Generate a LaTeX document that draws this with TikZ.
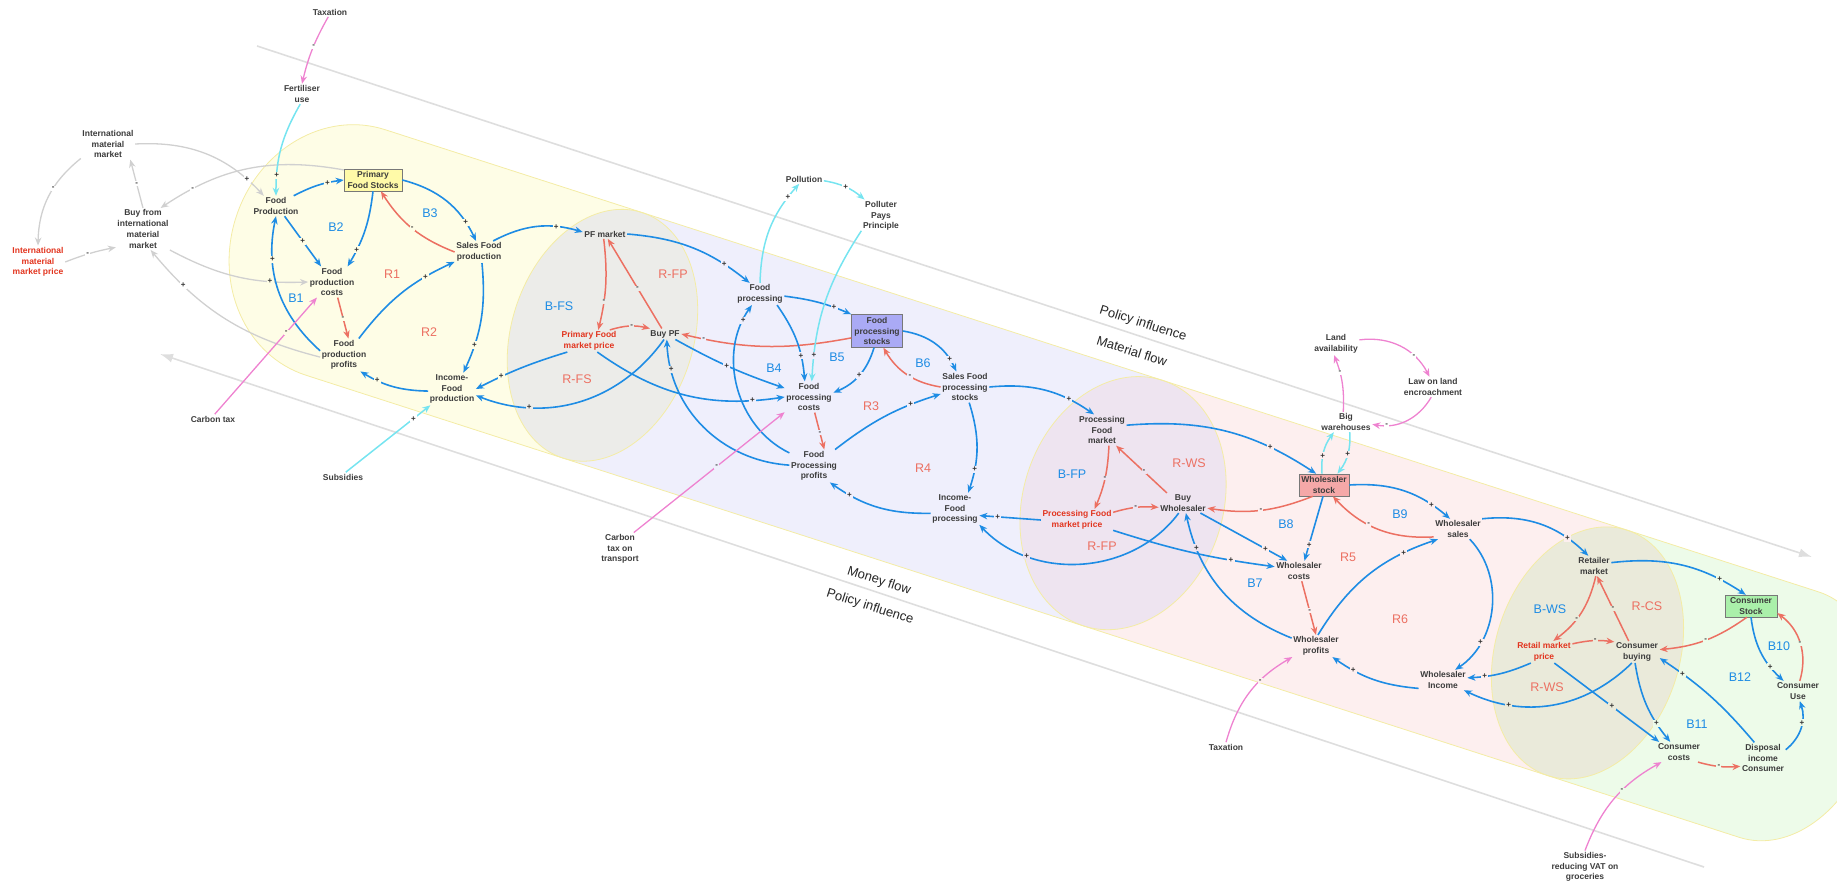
\documentclass[tikz,border=0pt]{standalone}
\usepackage{fontspec}
\setmainfont{Liberation Sans}
\usetikzlibrary{arrows.meta}

% line and text colours
\definecolor{cblue}{RGB}{30,140,228}
\definecolor{cred}{RGB}{236,112,98}
\definecolor{ccyan}{RGB}{118,228,240}
\definecolor{cpink}{RGB}{238,130,208}
\definecolor{cgray}{RGB}{208,208,208}
\definecolor{guidegray}{RGB}{222,222,222}
\definecolor{txt}{RGB}{60,60,60}
\definecolor{rtxt}{RGB}{226,52,30}
% tube segment colours
\definecolor{bgY}{RGB}{254,253,230}
\definecolor{bgG}{RGB}{236,236,233}
\definecolor{bgL}{RGB}{239,239,252}
\definecolor{bgP}{RGB}{238,228,240}
\definecolor{bgK}{RGB}{253,239,239}
\definecolor{bgO}{RGB}{234,234,218}
\definecolor{bgN}{RGB}{237,251,233}
\definecolor{rim}{RGB}{244,236,165}
% stock boxes
\definecolor{boxY}{RGB}{255,250,168}
\definecolor{boxL}{RGB}{170,170,245}
\definecolor{boxK}{RGB}{245,168,168}
\definecolor{boxN}{RGB}{170,240,170}
\definecolor{boxline}{RGB}{120,120,120}

\begin{document}
\begin{tikzpicture}[x=1pt,y=-1pt,
  nd/.style={font=\bfseries\fontsize{8.5}{10.8}\selectfont, text=txt, align=center, inner sep=1.5pt},
  rn/.style={nd, text=rtxt},
  bx/.style={nd, draw=boxline, line width=0.6pt, inner xsep=2pt, inner ysep=2.5pt},
  lb/.style={font=\fontsize{12.5}{12.5}\selectfont, text=cblue},
  lr/.style={font=\fontsize{12.5}{12.5}\selectfont, text=cred},
  flowtxt/.style={font=\fontsize{13}{13}\selectfont, text=black!85, rotate=-17.87},
  sg/.style={font=\bfseries\fontsize{8}{8}\selectfont, text=black!80, inner sep=1.2pt, fill=#1},
  sg/.default=white,
  tip/.style={-{Stealth[length=8pt,width=6.5pt]}},
  eb/.style={draw=cblue, line width=1.6pt, tip},
  er/.style={draw=cred, line width=1.5pt, tip},
  ec/.style={draw=ccyan, line width=1.5pt, tip},
  ep/.style={draw=cpink, line width=1.3pt, tip},
  eg/.style={draw=cgray, line width=1.3pt, tip},
  guide/.style={draw=guidegray, line width=1.6pt, -{Latex[length=13pt,width=9pt]}}
]
\useasboundingbox (0,0) rectangle (1837,885);
\clip (0,0) rectangle (1837,885);

% ---------- the supply-chain tube ----------
\begin{scope}[shift={(631,344.5)}, rotate=-17.87]
  \fill[bgN] (1005,-129) rectangle (1206,129);
  \fill[bgN] (1206,0) ellipse [x radius=95, y radius=129];
  \fill[bgK] (517,-129) rectangle (1005,129);
  \filldraw[fill=bgO, draw=rim, line width=.8pt] (1005,0) ellipse [x radius=92, y radius=129];
  \fill[bgL] (-30,-129) rectangle (517,129);
  \filldraw[fill=bgP, draw=rim, line width=.8pt] (517,0) ellipse [x radius=100, y radius=129];
  \fill[bgY] (-300,-129) rectangle (-30,129);
  \fill[bgY] (-300,0) ellipse [x radius=115, y radius=129];
  \filldraw[fill=bgG, draw=rim, line width=.8pt] (-30,0) ellipse [x radius=91, y radius=129];
  \draw[rim, line width=.8pt] (-300,-129) -- (1206,-129) (-300,129) -- (1206,129);
  \begin{scope}
    \clip (-430,-135) rectangle (-300,135);
    \draw[rim, line width=.8pt] (-300,0) ellipse [x radius=115, y radius=129];
  \end{scope}
  \begin{scope}
    \clip (1206,-135) rectangle (1320,135);
    \draw[rim, line width=.8pt] (1206,0) ellipse [x radius=95, y radius=129];
  \end{scope}
\end{scope}

% ---------- flow guides ----------
\coordinate (gtopA) at (257,46);
\coordinate (gtopB) at (1812,557);
\coordinate (gbotA) at (1704,867);
\coordinate (gbotB) at (160,354);
\draw[guide] (gtopA) -- (gtopB);
\draw[guide] (gbotA) -- (gbotB);
\node[flowtxt] (pinfA) at (1143,324) {Policy influence};
\node[flowtxt] (mflow) at (1132,351) {Material flow};
\node[flowtxt] (moflow) at (879,581) {Money flow};
\node[flowtxt] (pinfB) at (870,607) {Policy influence};

% ---------- variables ----------
\node[nd] (tax1) at (330,12) {Taxation};
\node[nd] (fert) at (302,94) {Fertiliser\\use};
\node[nd] (imm) at (108,144) {International\\material\\market};
\node[nd] (bfim) at (143,229) {Buy from\\international\\material\\market};
\node[rn] (immp) at (38,262) {International\\material\\market price};
\node[bx, fill=boxY, minimum width=58pt] (pfs) at (373,180) {Primary\\Food Stocks};
\node[nd] (fp) at (276,206) {Food\\Production};
\node[nd] (sfp) at (479,252) {Sales Food\\production};
\node[nd] (fpc) at (332,282) {Food\\production\\costs};
\node[nd] (fpp) at (344,355) {Food\\production\\profits};
\node[nd] (ifp) at (452,389) {Income-\\Food\\production};
\node[nd] (ctax) at (213,419) {Carbon tax};
\node[nd] (subs) at (343,477) {Subsidies};
\node[nd] (pfm) at (605,234) {PF market};
\node[nd] (poll) at (804,179) {Pollution};
\node[nd] (ppp) at (881,216) {Polluter\\Pays\\Principle};
\node[nd] (fproc) at (760,294) {Food\\processing};
\node[rn] (pfmp) at (589,341) {Primary Food\\market price};
\node[nd] (buypf) at (665,334) {Buy PF};
\node[bx, fill=boxL, minimum width=51pt] (fps) at (877,331) {Food\\processing\\stocks};
\node[nd] (fpcost) at (809,397) {Food\\processing\\costs};
\node[nd] (fpprof) at (814,466) {Food\\Processing\\profits};
\node[nd] (ctt) at (620,549) {Carbon\\tax on\\transport};
\node[nd] (sfps) at (965,387) {Sales Food\\processing\\stocks};
\node[nd] (ifproc) at (955,509) {Income-\\Food\\processing};
\node[nd] (prfm) at (1102,430) {Processing\\Food\\market};
\node[rn] (prfmp) at (1077,520) {Processing Food\\market price};
\node[nd] (buyw) at (1183,503) {Buy\\Wholesaler};
\node[nd] (land) at (1336,344) {Land\\availability};
\node[nd] (law) at (1433,387) {Law on land\\encroachment};
\node[nd] (bigw) at (1346,422) {Big\\warehouses};
\node[bx, fill=boxK, minimum width=50pt] (wstock) at (1324,485) {Wholesaler\\stock};
\node[nd] (wcost) at (1299,571) {Wholesaler\\costs};
\node[nd] (wprof) at (1316,646) {Wholesaler\\profits};
\node[nd] (tax2) at (1226,747) {Taxation};
\node[nd] (wsales) at (1458,529) {Wholesaler\\sales};
\node[nd] (wincome) at (1443,680) {Wholesaler\\Income};
\node[nd] (retm) at (1594,566) {Retailer\\market};
\node[bx, fill=boxN, minimum width=52pt] (cstock) at (1751,606) {Consumer\\Stock};
\node[rn] (rmp) at (1544,652) {Retail market\\price};
\node[nd] (cbuy) at (1637,652) {Consumer\\buying};
\node[nd] (cuse) at (1798,691) {Consumer\\Use};
\node[nd] (ccost) at (1679,752) {Consumer\\costs};
\node[nd] (dic) at (1763,758) {Disposal\\income\\Consumer};
\node[nd] (svat) at (1585,867) {Subsidies-\\reducing VAT on\\groceries};

% ---------- loop labels ----------
\node[lb] (lB1) at (296,298) {B1};
\node[lb] (lB2) at (336,227) {B2};
\node[lb] (lB3) at (430,213) {B3};
\node[lr] (lR1) at (392,274) {R1};
\node[lr] (lR2) at (429,332) {R2};
\node[lb] (lBFS) at (559,306) {B-FS};
\node[lr] (lRFPa) at (673,274) {R-FP};
\node[lr] (lRFS) at (577,379) {R-FS};
\node[lb] (lB4) at (774,368) {B4};
\node[lb] (lB5) at (837,357) {B5};
\node[lb] (lB6) at (923,363) {B6};
\node[lr] (lR3) at (871,406) {R3};
\node[lr] (lR4) at (923,468) {R4};
\node[lb] (lBFP) at (1072,474) {B-FP};
\node[lr] (lRWSa) at (1189,463) {R-WS};
\node[lr] (lRFPb) at (1102,546) {R-FP};
\node[lb] (lB8) at (1286,524) {B8};
\node[lb] (lB7) at (1255,583) {B7};
\node[lr] (lR5) at (1348,557) {R5};
\node[lb] (lB9) at (1400,514) {B9};
\node[lr] (lR6) at (1400,619) {R6};
\node[lb] (lBWS) at (1550,609) {B-WS};
\node[lr] (lRCS) at (1647,606) {R-CS};
\node[lr] (lRWSb) at (1547,687) {R-WS};
\node[lb] (lB10) at (1779,646) {B10};
\node[lb] (lB12) at (1740,677) {B12};
\node[lb] (lB11) at (1697,724) {B11};

% ---------- primary production ----------
\draw[eg] (imm.east) to[bend left=25] node[sg, pos=.85]{+} (fp.140);
\draw[eg] (pfs.161) to[bend right=22] node[sg, pos=.82]{-} (bfim.50);
\draw[eg] (bfim.north) to node[sg, pos=.5]{-} (imm.-35);
\draw[eg] (imm.208) to[bend right=25] node[sg, pos=.4]{-} (immp.north);
\draw[eg] (immp.east) to[bend left=5] node[sg, pos=.45]{-} (bfim.214);
\draw[eg] (bfim.-38) to[bend right=15] node[sg=bgY, pos=.75]{+} (fpc.west);
\draw[eg] (fpp.185) to[bend left=18] node[sg, pos=.78]{+} (bfim.-70);

\draw[eb] (fp.30) to[bend left=10] node[sg=bgY, pos=.7]{+} (pfs.west);
\draw[eb] (fp.-50) to node[sg=bgY, pos=.5]{+} (fpc.125);
\draw[eb] (fpp.170) to[bend left=30] node[sg=bgY, pos=.72]{+} (fp.south);
\draw[eb] (pfs.south) to[bend left=12] node[sg=bgY, pos=.78]{+} (fpc.45);
\draw[eb] (pfs.east) to[bend left=25] node[sg=bgY, pos=.8]{+} (sfp.105);
\draw[er] (sfp.west) to[bend left=18] node[sg=bgY, pos=.5]{-} (pfs.-55);
\draw[er] (fpc.-70) to node[sg=bgY, pos=.5]{-} (fpp.75);
\draw[eb] (fpp.48) to[bend left=14] node[sg=bgY, pos=.75]{+} (sfp.202);
\draw[eb] (sfp.-75) to[bend left=15] node[sg=bgY, pos=.75]{+} (ifp.55);
\draw[eb] (ifp.185) to[bend left=15] node[sg=bgY, pos=.75]{+} (fpp.-45);
\draw[ep] (ctax.70) to node[sg=bgY, pos=.7]{-} (fpc.226);
\draw[ec] (fert.-100) to[bend right=15] node[sg=bgY, pos=.8]{+} (fp.north);
\draw[ep] (tax1.-110) to[bend right=8] node[sg, pos=.45]{-} (fert.north);
\draw[ec] (subs.60) to node[sg, pos=.8]{+} (ifp.217);
\draw[eb] (pfmp.-153) to[bend right=5] node[sg=bgY, pos=.73]{+} (ifp.east);
\draw[eb] (buypf.-100) to[bend left=38] node[sg=bgG, pos=.75]{+} (ifp.-15);
\draw[eb] (sfp.38) to[bend left=22] node[sg=bgY, pos=.72]{+} (pfm.175);

% ---------- food processing ----------
\draw[er] (pfm.-105) to[bend left=10] node[sg=bgG, pos=.7]{-} (pfmp.50);
\draw[er] (buypf.120) to node[sg=bgG, pos=.45]{-} (pfm.-60);
\draw[er] (pfmp.28) to[bend left=15] node[sg=bgG, pos=.55]{-} (buypf.160);
\draw[eb] (pfm.east) to[bend left=17] node[sg=bgL, pos=.78]{+} (fproc.133);
\draw[eb] (fproc.-5) to[bend left=8] node[sg=bgL, pos=.75]{+} (fps.north west);
\draw[er] (fps.195) to[bend left=12] node[sg=bgL, pos=.88]{-} (buypf.east);
\draw[eb] (fproc.-33) to[bend left=15] node[sg=bgL, pos=.7]{+} (fpcost.105);
\draw[ec] (ppp.-143) to[bend right=15] node[sg=bgL, pos=.85]{+} (fpcost.80);
\draw[ec] (fproc.north) to[bend left=20] node[sg, pos=.85]{+} (poll.-135);
\draw[ec] (poll.-5) to[bend left=15] node[sg, pos=.5]{+} (ppp.135);
\draw[eb] (buypf.-28) to[bend right=5] node[sg=bgL, pos=.48]{+} (fpcost.160);
\draw[eb] (pfmp.-53) to[bend right=22] node[sg=bgL, pos=.85]{+} (fpcost.west);
\draw[eb] (fpprof.178) to[bend left=42] node[sg=bgG, pos=.85]{+} (buypf.-72);
\draw[eb] (fpprof.152) to[bend left=50] node[sg=bgL, pos=.9]{+} (fproc.-126);
\draw[eb] (fps.-100) to[bend left=25] node[sg=bgL, pos=.5]{+} (fpcost.10);
\draw[er] (sfps.west) to[bend left=25] node[sg=bgL, pos=.45]{-} (fps.-69);
\draw[er] (fpcost.-70) to node[sg=bgL, pos=.55]{-} (fpprof.58);
\draw[eb] (fpprof.38) to[bend left=10] node[sg=bgL, pos=.75]{+} (sfps.196);
\draw[ep] (ctt.50) to node[sg=bgL, pos=.55]{-} (fpcost.212);
\draw[eb] (fps.east) to[bend left=28] node[sg=bgL, pos=.82]{+} (sfps.119);
\draw[eb] (sfps.east) to[bend left=20] node[sg=bgL, pos=.75]{+} (prfm.117);
\draw[eb] (sfps.-75) to[bend left=18] node[sg=bgL, pos=.75]{+} (ifproc.51);
\draw[eb] (ifproc.190) to[bend left=18] node[sg=bgL, pos=.8]{+} (fpprof.-46);
\draw[eb] (prfmp.west) to node[sg=bgL, pos=.7]{+} (ifproc.-15);
\draw[eb] (buyw.-113) to[bend left=50] node[sg=bgP, pos=.75]{+} (ifproc.-33);

% ---------- wholesale ----------
\draw[er] (prfm.-66) to[bend left=10] node[sg=bgP, pos=.5]{-} (prfmp.32);
\draw[er] (buyw.148) to node[sg=bgP, pos=.45]{-} (prfm.-48);
\draw[er] (prfmp.12) to[bend left=10] node[sg=bgP, pos=.5]{-} (buyw.190);
\draw[eb] (prfm.11) to[bend left=19] node[sg=bgK, pos=.75]{+} (wstock.125);
\draw[er] (wstock.-135) to[bend left=15] node[sg=bgK, pos=.5]{-} (buyw.-12);
\draw[eb] (buyw.-30) to node[sg=bgK, pos=.75]{+} (wcost.139);
\draw[eb] (prfmp.-16) to[bend right=5] node[sg=bgK, pos=.75]{+} (wcost.170);
\draw[eb] (wprof.162) to[bend left=28] node[sg=bgP, pos=.8]{+} (buyw.-74);
\draw[eb] (wstock.-95) to node[sg=bgK, pos=.75]{+} (wcost.62);
\draw[er] (wcost.-75) to node[sg=bgK, pos=.55]{-} (wprof.north);
\draw[ec] (wstock.100) to[bend left=20] node[sg=bgK, pos=.4]{+} (bigw.-140);
\draw[ec] (bigw.-70) to[bend left=20] node[sg=bgK, pos=.5]{+} (wstock.40);
\draw[ep] (bigw.105) to[bend right=12] node[sg, pos=.7]{-} (land.-100);
\draw[ep] (land.10) to[bend left=35] node[sg, pos=.7]{-} (law.109);
\draw[ep] (law.-100) to[bend left=35] node[sg, pos=.8]{-} (bigw.-5);
\draw[ep] (tax2.north) to[bend left=22] node[sg=bgK, pos=.65]{-} (wprof.-155);
\draw[eb] (wstock.east) to[bend left=22] node[sg=bgK, pos=.8]{+} (wsales.128);
\draw[er] (wsales.198) to[bend left=25] node[sg=bgK, pos=.6]{-} (wstock.-52);
\draw[eb] (wprof.80) to[bend left=20] node[sg=bgK, pos=.78]{+} (wsales.-153);
\draw[eb] (wsales.-41) to[bend left=50] node[sg=bgK, pos=.75]{+} (wincome.40);
\draw[eb] (wincome.199) to[bend left=15] node[sg=bgK, pos=.75]{+} (wprof.-34);
\draw[eb] (wsales.23) to[bend left=25] node[sg=bgK, pos=.78]{+} (retm.119);

% ---------- retail and consumers ----------
\draw[eb] (retm.11) to[bend left=20] node[sg=bgN, pos=.8]{+} (cstock.115);
\draw[er] (retm.-80) to[bend left=20] node[sg=bgO, pos=.6]{-} (rmp.50);
\draw[er] (cbuy.127) to node[sg=bgO, pos=.5]{-} (retm.-73);
\draw[er] (rmp.16) to[bend left=10] node[sg=bgO, pos=.55]{-} (cbuy.156);
\draw[er] (cstock.-110) to[bend left=15] node[sg=bgN, pos=.5]{-} (cbuy.6);
\draw[eb] (cstock.south) to[bend right=20] node[sg=bgN, pos=.75]{+} (cuse.145);
\draw[er] (cuse.80) to[bend right=35] node[sg=bgN, pos=.5]{-} (cstock.-15);
\draw[eb] (dic.20) to[bend right=35] node[sg=bgN, pos=.6]{+} (cuse.-80);
\draw[eb] (dic.119) to[bend right=8] node[sg=bgN, pos=.8]{+} (cbuy.-15);
\draw[eb] (cbuy.-100) to[bend right=15] node[sg=bgN, pos=.75]{+} (ccost.131);
\draw[eb] (rmp.-47) to node[sg=bgO, pos=.55]{+} (ccost.153);
\draw[eb] (cbuy.-115) to[bend left=35] node[sg=bgO, pos=.75]{+} (wincome.-26);
\draw[eb] (rmp.-140) to[bend left=10] node[sg=bgK, pos=.75]{+} (wincome.5);
\draw[er] (ccost.-28) to[bend right=10] node[sg=bgN, pos=.5]{-} (dic.200);
\draw[ep] (svat.north) to[bend left=20] node[sg=bgN, pos=.6]{-} (ccost.-150);
\end{tikzpicture}
\end{document}
